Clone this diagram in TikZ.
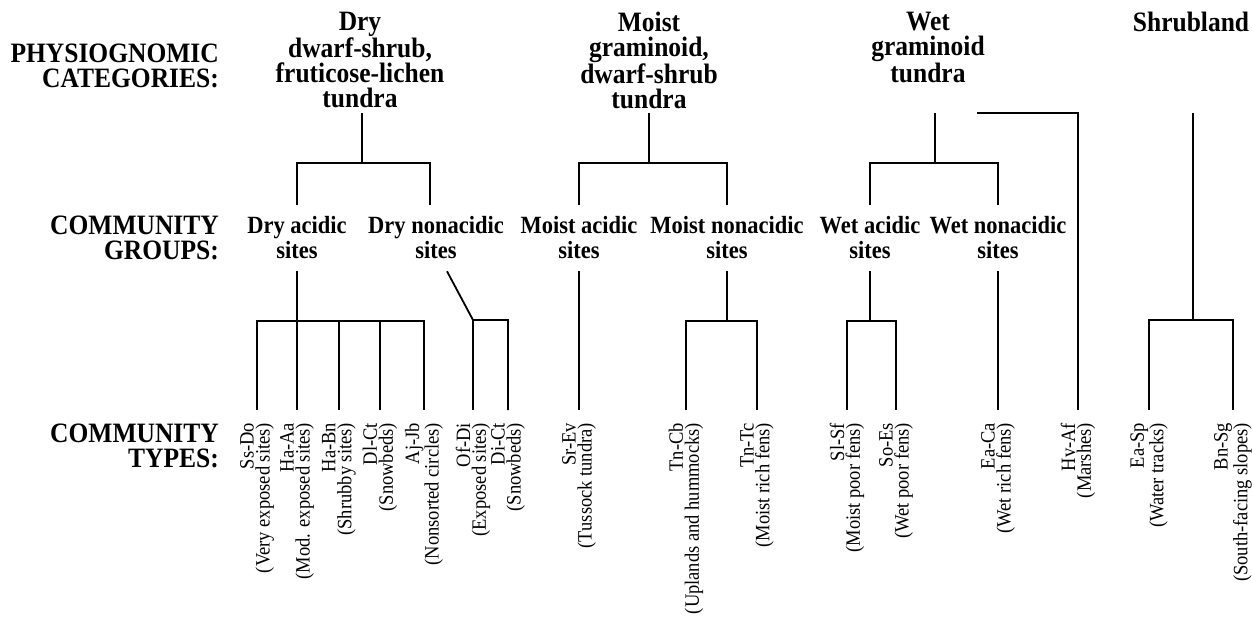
\documentclass[tikz,border=0pt]{standalone}
\usepackage{fontspec}
\setmainfont{Liberation Serif}
\begin{document}
\begin{tikzpicture}[x=1pt,y=-1pt]
			\tikzset{cat/.style={font=\fontsize{25.5}{22.7}\selectfont\bfseries, align=center, inner sep=0pt, anchor=north, yscale=1.1},
				grp/.style={font=\fontsize{22.5}{22.7}\selectfont\bfseries, align=center, inner sep=0pt, outer ysep=11pt, yscale=1.1},
				lvl/.style={font=\fontsize{25.5}{22.5}\selectfont\bfseries, align=right, inner sep=0pt, anchor=east, yscale=1.1},
				typ/.style={font=\fontsize{18.5}{14.5}\selectfont, align=right, rotate=90, anchor=east, inner sep=0pt, outer xsep=13pt, yscale=1.1},
				ligne/.style={line width=1.8pt}};
			\useasboundingbox (0,0) rectangle (1252,621);
			% level names
			\node[lvl] (physio) at (219,66) {PHYSIOGNOMIC\\CATEGORIES:};
			\node[lvl] (groups) at (219,238) {COMMUNITY\\GROUPS:};
			\node[lvl] (types) at (219,446) {COMMUNITY\\TYPES:};
			% physiognomic categories
			\node[cat] (catDry) at (360,12) {Dry\\dwarf-shrub,\\fruticose-lichen\\tundra};
			\node[cat] (catMoist) at (649,12) {Moist\\graminoid,\\dwarf-shrub\\tundra};
			\node[cat] (catWet) at (928,12) {Wet\\graminoid\\tundra};
			\node[cat] (catShrub) at (1191,12) {Shrubland};
			% community groups
			\node[grp] (gDA) at (297,238) {Dry acidic\\sites};
			\node[grp] (gDN) at (436,238) {Dry nonacidic\\sites};
			\node[grp] (gMA) at (579,238) {Moist acidic\\sites};
			\node[grp] (gMN) at (727,238) {Moist nonacidic\\sites};
			\node[grp] (gWA) at (870,238) {Wet acidic\\sites};
			\node[grp] (gWN) at (998,238) {Wet nonacidic\\sites};
			% community types
			\node[typ] (tSsDo) at (257,410) {Ss-Do\\(Very exposed sites)};
			\node[typ] (tHaAa) at (297,410) {Ha-Aa\\(Mod. exposed sites)};
			\node[typ] (tHaBn) at (339,410) {Ha-Bn\\(Shrubby sites)};
			\node[typ] (tDlCt) at (380,410) {Dl-Ct\\(Snowbeds)};
			\node[typ] (tAjJb) at (424,410) {Aj-Jb\\(Nonsorted circles)};
			\node[typ] (tOfDi) at (473,410) {Of-Di\\(Exposed sites)};
			\node[typ] (tDiCt) at (508,410) {Di-Ct\\(Snowbeds)};
			\node[typ] (tSrEv) at (579,410) {Sr-Ev\\(Tussock tundra)};
			\node[typ] (tTnCb) at (686,410) {Tn-Cb\\(Uplands and hummocks)};
			\node[typ] (tTnTc) at (757,410) {Tn-Tc\\(Moist rich fens)};
			\node[typ] (tSlSf) at (847,410) {Sl-Sf\\(Moist poor fens)};
			\node[typ] (tSoEs) at (896,410) {So-Es\\(Wet poor fens)};
			\node[typ] (tEaCa) at (998,410) {Ea-Ca\\(Wet rich fens)};
			\node[typ] (tHvAf) at (1078,410) {Hv-Af\\(Marshes)};
			\node[typ] (tEaSp) at (1149,410) {Ea-Sp\\(Water tracks)};
			\node[typ] (tBnSg) at (1233,410) {Bn-Sg\\(South-facing slopes)};
			% stems below the categories
			\coordinate (sDry) at (362,113);
			\coordinate (sMoist) at (649,113);
			\coordinate (sWet) at (935,113);
			\coordinate (sMarsh) at (977,113);
			\coordinate (sShrub) at (1193,113);
			% categories to groups
			\draw[ligne] (sDry) -- ++(0,50) coordinate (jDry);
			\draw[ligne] (gDA.north) |- (jDry) -| ([xshift=-6pt]gDN.north);
			\draw[ligne] (sMoist) -- ++(0,50) coordinate (jMoist);
			\draw[ligne] (gMA.north) |- (jMoist) -| (gMN.north);
			\draw[ligne] (sWet) -- ++(0,50) coordinate (jWet);
			\draw[ligne] (gWA.north) |- (jWet) -| (gWN.north);
			% groups to types
			\draw[ligne] (gDA.south) -- ++(0,50) coordinate (jDA);
			\draw[ligne] (tSsDo.east) |- (jDA) -| (tAjJb.east);
			\foreach \t in {tHaAa,tHaBn,tDlCt}
				\draw[ligne] (\t.east) -- (\t.east |- jDA);
			\draw[ligne] (tOfDi.east) -- ++(0,-90) coordinate (jDN);
			\draw[ligne] ([xshift=11pt]gDN.south) -- (jDN) -| (tDiCt.east);
			\draw[ligne] (gMA.south) -- (tSrEv.east);
			\draw[ligne] (gMN.south) -- ++(0,50) coordinate (jMN);
			\draw[ligne] (tTnCb.east) |- (jMN) -| (tTnTc.east);
			\draw[ligne] (gWA.south) -- ++(0,50) coordinate (jWA);
			\draw[ligne] (tSlSf.east) |- (jWA) -| (tSoEs.east);
			\draw[ligne] (gWN.south) -- (tEaCa.east);
			\draw[ligne] (sMarsh) -| (tHvAf.east);
			\draw[ligne] (sShrub) -- ++(0,207) coordinate (jShrub);
			\draw[ligne] (tEaSp.east) |- (jShrub) -| (tBnSg.east);
\end{tikzpicture}
\end{document}
